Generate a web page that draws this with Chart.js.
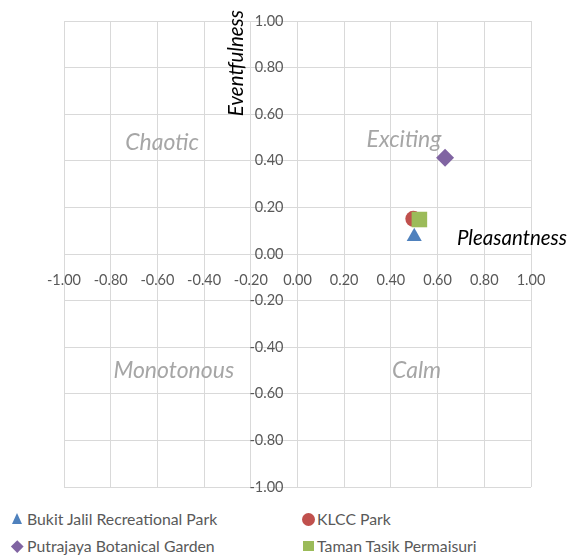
<!DOCTYPE html>
<html>
<head>
<meta charset="utf-8">
<script src="https://cdn.jsdelivr.net/npm/chart.js@4"></script>
<style>
  html, body { margin: 0; padding: 0; background: #ffffff; overflow: hidden; }
  #wrap { position: relative; width: 568px; height: 500px; }
  #legend { position: absolute; left: 0; top: 500px; width: 568px; height: 57px; font-family: Lato, "Open Sans", sans-serif; color: #595959; z-index: 2; }
  .item { position: absolute; font-size: 15.8px; line-height: 20px; white-space: nowrap; }
  .mk { position: absolute; }
</style>
</head>
<body>
<div id="wrap"><canvas id="c" width="568" height="500"></canvas></div>
<div id="legend"></div>
<script>
// ---- data ----
const seriesNames = ['Bukit Jalil Recreational Park', 'KLCC Park', 'Putrajaya Botanical Garden', 'Taman Tasik Permaisuri'];
const pleasantness = [0.500, 0.496, 0.632, 0.522];
const eventfulness = [0.075, 0.151, 0.413, 0.148];
const seriesColors = ['#4F81BD', '#C0504D', '#8064A2', '#9BBB59'];
const seriesMarkers = ['triangle', 'circle', 'rectRot', 'rect'];
const markerRadius = [8.7, 8, 9, 11];
const drawOrder = [3, 2, 1, 0];
const axisMin = -1;
const axisMax = 1;
const axisStep = 0.2;
const xTitle = 'Pleasantness';
const yTitle = 'Eventfulness';
const quadrantNames = ['Chaotic', 'Exciting', 'Monotonous', 'Calm'];
const quadrantX = [-0.58, 0.456, -0.53, 0.51];
const quadrantY = [0.48, 0.49, -0.50, -0.50];

const FONT = 'Lato, "Open Sans", sans-serif';
const fmt = v => (Math.abs(v) < 1e-9 ? 0 : v).toFixed(2);

const datasets = seriesNames.map((name, i) => ({
  label: name,
  data: [{ x: pleasantness[i], y: eventfulness[i] }],
  pointStyle: seriesMarkers[i],
  pointRadius: markerRadius[i],
  pointHoverRadius: markerRadius[i],
  backgroundColor: seriesColors[i],
  borderColor: seriesColors[i],
  borderWidth: 0,
  order: drawOrder[i]
}));

const overlayText = {
  id: 'overlayText',
  afterDatasetsDraw(chart) {
    const { ctx, scales: { x, y }, chartArea } = chart;
    ctx.save();
    // quadrant names
    ctx.font = 'italic 23px ' + FONT;
    ctx.fillStyle = '#A6A6A6';
    ctx.textAlign = 'center';
    ctx.textBaseline = 'middle';
    quadrantNames.forEach((t, i) => {
      ctx.fillText(t, x.getPixelForValue(quadrantX[i]), y.getPixelForValue(quadrantY[i]));
    });
    // axis titles
    const x0 = x.getPixelForValue(0);
    const y0 = y.getPixelForValue(0);
    ctx.font = 'italic 20.5px ' + FONT;
    ctx.fillStyle = '#000000';
    ctx.textAlign = 'right';
    ctx.textBaseline = 'alphabetic';
    ctx.fillText(xTitle, 568 - 1, y0 - 9);
    ctx.translate(x0 - 55, chartArea.top - 11);
    ctx.rotate(-Math.PI / 2);
    ctx.textAlign = 'right';
    ctx.fillText(yTitle, 0, 0);
    ctx.restore();
  }
};

const tickFont = { family: FONT, size: 14.5 };

new Chart(document.getElementById('c'), {
  type: 'scatter',
  data: { datasets },
  options: {
    responsive: false,
    animation: false,
    events: [],
    layout: { padding: { left: 64, right: 37, top: 21, bottom: 13 } },
    plugins: { legend: { display: false }, tooltip: { enabled: false } },
    scales: {
      x: {
        type: 'linear', min: axisMin, max: axisMax,
        position: { y: 0 },
        afterFit(s) { s.height = 0; },
        grid: { color: '#D9D9D9', lineWidth: 1, drawTicks: false },
        border: { color: '#D9D9D9', width: 1 },
        ticks: { stepSize: axisStep, padding: 18, color: '#595959', font: tickFont, maxRotation: 0, autoSkip: false, callback: v => fmt(v) }
      },
      y: {
        type: 'linear', min: axisMin, max: axisMax,
        // labels sit just left of the zero line (the zero line itself is the x grid line at 0)
        position: { x: -0.06 },
        afterFit(s) { s.width = 0; },
        grid: { color: '#D9D9D9', lineWidth: 1, drawTicks: false },
        border: { display: false },
        ticks: { stepSize: axisStep, color: '#595959', font: tickFont, autoSkip: false, callback: v => fmt(v) }
      }
    }
  },
  plugins: [overlayText]
});

// ---- HTML legend ----
const legendPos = [
  { mx: 17, my: 19, tx: 27, ty: 9 },
  { mx: 308, my: 19, tx: 317, ty: 9 },
  { mx: 17, my: 46, tx: 27, ty: 36 },
  { mx: 308, my: 46, tx: 317, ty: 36 }
];
const legend = document.getElementById('legend');
seriesNames.forEach((name, i) => {
  const p = legendPos[i];
  const m = document.createElement('div');
  m.className = 'mk';
  const c = seriesColors[i];
  const s = seriesMarkers[i];
  if (s === 'triangle') {
    Object.assign(m.style, { width: '0', height: '0', borderLeft: '5.5px solid transparent', borderRight: '5.5px solid transparent', borderBottom: '11px solid ' + c, left: (p.mx - 5.5) + 'px', top: (p.my - 6) + 'px' });
  } else if (s === 'circle') {
    Object.assign(m.style, { width: '13px', height: '13px', borderRadius: '50%', background: c, left: (p.mx - 6.5) + 'px', top: (p.my - 6.5) + 'px' });
  } else if (s === 'rectRot') {
    Object.assign(m.style, { width: '8.5px', height: '8.5px', background: c, transform: 'rotate(45deg)', left: (p.mx - 4.25) + 'px', top: (p.my - 4.25) + 'px' });
  } else {
    Object.assign(m.style, { width: '11px', height: '10px', background: c, left: (p.mx - 5.5) + 'px', top: (p.my - 5) + 'px' });
  }
  legend.appendChild(m);
  const t = document.createElement('div');
  t.className = 'item';
  t.textContent = name;
  t.style.left = p.tx + 'px';
  t.style.top = p.ty + 'px';
  legend.appendChild(t);
});
</script>
</body>
</html>
